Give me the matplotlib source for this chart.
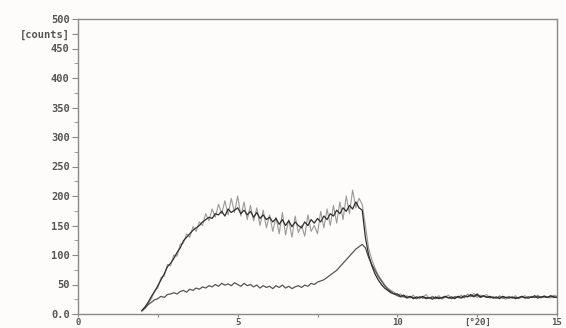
import numpy as np
import matplotlib
matplotlib.use("Agg")
import matplotlib.pyplot as plt
from matplotlib.ticker import MultipleLocator

# x grid (°2θ), 0.1 step from 2.0 to 15.0
two_theta = np.linspace(2.0, 15.0, 131)

upper_dark = [
    6, 12, 20, 30, 38, 48, 58, 68, 80, 86,
    94, 104, 112, 124, 130, 136, 142, 146, 150, 156,
    160, 164, 162, 170, 168, 174, 166, 178, 172, 176,
    180, 170, 176, 168, 174, 164, 172, 162, 168, 160,
    164, 156, 162, 152, 160, 150, 158, 148, 156, 150,
    146, 156, 150, 160, 154, 162, 156, 166, 160, 170,
    166, 176, 170, 180, 174, 184, 178, 190, 180, 176,
    130, 100, 82, 68, 58, 50, 44, 40, 36, 34,
    34, 30, 32, 28, 30, 26, 29, 27, 30, 26,
    28, 25, 29, 26, 28, 30, 27, 29, 26, 30,
    28, 31, 29, 33, 30, 34, 29, 31, 28, 30,
    27, 29, 26, 30, 28, 27, 29, 26, 28, 30,
    27, 29, 28, 31, 27, 29, 30, 28, 31, 29,
    28,
]

upper_light = [
    4, 10, 18, 26, 40, 44, 62, 64, 84, 82,
    100, 98, 118, 120, 136, 130, 148, 140, 156, 150,
    170, 158, 178, 164, 186, 170, 192, 168, 196, 172,
    200, 166, 190, 160, 184, 158, 180, 150, 176, 146,
    168, 140, 164, 136, 172, 134, 160, 130, 166, 138,
    150, 132, 168, 140, 150, 136, 174, 146, 178, 150,
    184, 154, 190, 160, 200, 170, 210, 180, 196, 186,
    150, 112, 92, 78, 66, 58, 50, 44, 40, 37,
    32, 34, 28, 31, 27, 32, 26, 30, 28, 33,
    26, 30, 27, 31, 25, 29, 32, 26, 30, 28,
    32, 27, 34, 29, 35, 28, 32, 30, 33, 27,
    30, 26, 31, 28, 25, 30, 27, 31, 26, 29,
    31, 26, 30, 28, 32, 27, 31, 29, 27, 32,
    30,
]

lower = [
    6, 10, 16, 20, 24, 26, 30, 28, 33, 34,
    36, 34, 38, 40, 37, 42, 40, 44, 42, 46,
    44, 48, 46, 50, 47, 52, 49, 51, 48, 53,
    50, 47, 52, 48, 50, 46, 49, 44, 48, 45,
    47, 43, 48, 45, 49, 44, 47, 43, 46, 48,
    45, 49, 47, 52, 50, 54, 56, 58, 62, 66,
    70, 74, 80, 86, 92, 98, 104, 110, 114, 118,
    112, 96, 84, 74, 64, 56, 48, 42, 38, 34,
    31, 29, 30, 27, 29, 28, 26, 29, 27, 28,
    27, 29, 26, 28, 27, 29, 28, 26, 29, 28,
    27, 29, 30, 31, 29, 32, 28, 30, 29, 28,
    28, 27, 29, 27, 28, 29, 27, 28, 27, 29,
    28, 27, 29, 28, 30, 28, 29, 28, 30, 28,
    29,
]

y_ticks = [0, 50, 100, 150, 200, 250, 300, 350, 400, 450, 475, 500]
y_labels = ["0.0", "50", "100", "150", "200", "250", "300", "350",
            "400", "450", "[counts]", "500"]
x_ticks = [0, 2.5, 5, 7.5, 10, 12.5, 15]
x_labels = ["0", "", "5", "", "10", "[°2Θ]", "15"]

bg = "#fdfcfa"
fig = plt.figure(figsize=(5.66, 3.28), dpi=100, facecolor=bg)
ax = fig.add_axes([78/566, 14/328, (557-78)/566, (314-19)/328], facecolor=bg)

ax.plot(two_theta, upper_light, color="#9a9a9a", lw=0.8)
ax.plot(two_theta, lower, color="#555555", lw=0.9)
ax.plot(two_theta, upper_dark, color="#2e2e2e", lw=0.9)

ax.set_xlim(0, 15)
ax.set_ylim(0, 500)
ax.set_yticks(y_ticks)
ax.set_yticklabels(y_labels)
ax.yaxis.set_minor_locator(MultipleLocator(25))
ax.set_xticks(x_ticks)
ax.set_xticklabels(x_labels)

for s in ax.spines.values():
    s.set_color("#8a8a8a")
    s.set_linewidth(1.0)

ax.tick_params(axis="both", which="both", color="#8a8a8a", direction="out",
               labelcolor="#555555", labelsize=7.5, pad=2)
ax.tick_params(axis="y", which="major", length=4)
ax.tick_params(axis="y", which="minor", length=3)
ax.tick_params(axis="x", which="major", length=2.5, pad=0.5, labelsize=6.5)
for lbl in ax.get_xticklabels() + ax.get_yticklabels():
    lbl.set_family("DejaVu Sans Mono")
    lbl.set_fontweight("bold")

fig.savefig("out.png", dpi=100, facecolor=bg)
